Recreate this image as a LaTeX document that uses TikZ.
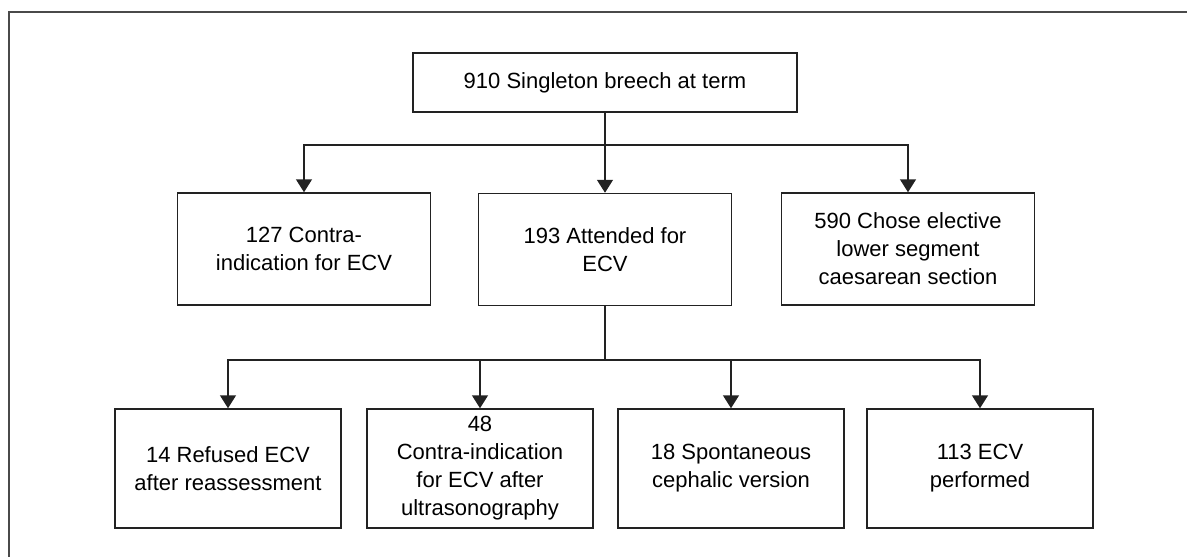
\documentclass[tikz,border=0pt]{standalone}
\usepackage{fontspec}
\setmainfont{Liberation Sans}
\usetikzlibrary{arrows.meta}
\definecolor{framegray}{HTML}{4A4A4A}
\definecolor{ink}{HTML}{222222}
\begin{document}
\begin{tikzpicture}[x=1pt,y=-1pt,
  box/.style={draw=ink,line width=1.5pt,align=center,inner sep=0pt,
    font=\fontsize{22}{28}\selectfont,text=black},
  wide/.style={box,minimum width=384pt,minimum height=59pt},
  midbox/.style={box,minimum width=253pt,minimum height=112pt},
  lowbox/.style={box,minimum width=226pt,minimum height=119pt},
  link/.style={draw=ink,line width=1.5pt},
  arr/.style={link,-{Triangle[width=16pt,length=13pt]}}]
\useasboundingbox (0,0) rectangle (1187,557);
% outer frame (top and left edges)
\draw[framegray,line width=2pt] (9,557) -- (9,12) -- (1187,12);

% top level
\node[wide] (root) at (605,82.5) {910 Singleton breech at term};

% second level
\node[midbox] (contra) at (304,249) {127 Contra-\\indication for ECV};
\node[midbox] (attend) at (605,249.5) {193 Attended for\\ECV};
\node[midbox] (lscs) at (908,249) {590 Chose elective\\lower segment\\caesarean section};

% third level
\node[lowbox] (refused) at (228,468.5) {14 Refused ECV\\after reassessment};
\node[lowbox] (usg) at (480,468.5) {48\\Contra-indication\\for ECV after\\ultrasonography};
\node[lowbox] (scv) at (731,468.5) {18 Spontaneous\\cephalic version};
\node[lowbox] (ecv) at (980,468.5) {113 ECV\\performed};

% branch points
\coordinate (split1) at (root.south |- 0,145);
\coordinate (split2) at (attend.south |- 0,360);

% connectors from the top box
\draw[link] (root.south) -- (split1);
\draw[arr] (split1) -| (contra.north);
\draw[arr] (split1) -- (attend.north);
\draw[arr] (split1) -| (lscs.north);

% connectors from the attended box
\draw[link] (attend.south) -- (split2);
\draw[arr] (split2) -| (refused.north);
\draw[arr] (split2) -| (usg.north);
\draw[arr] (split2) -| (scv.north);
\draw[arr] (split2) -| (ecv.north);
\end{tikzpicture}
\end{document}
